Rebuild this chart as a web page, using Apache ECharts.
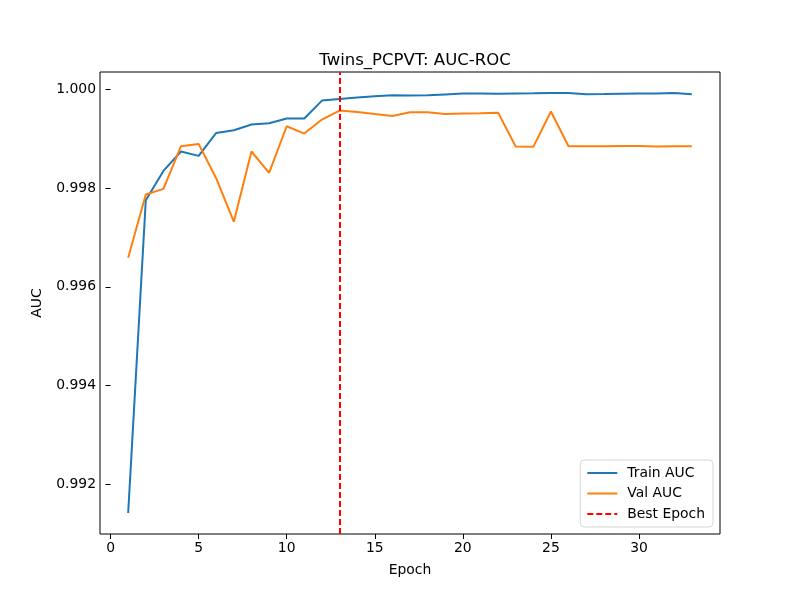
<!DOCTYPE html>
<html>
<head>
<meta charset="utf-8">
<script src="https://cdn.jsdelivr.net/npm/echarts@6/dist/echarts.min.js"></script>
<style>
  html, body { margin: 0; padding: 0; background: #fff; }
  #chart { width: 800px; height: 600px; }
</style>
</head>
<body>
<div id="chart"></div>
<script>
// 数据：从图上读出来的
const epochs = [1, 2, 3, 4, 5, 6, 7, 8, 9, 10, 11, 12, 13, 14, 15, 16, 17,
  18, 19, 20, 21, 22, 23, 24, 25, 26, 27, 28, 29, 30, 31, 32, 33]
const trainAuc = [0.991415, 0.997757, 0.998350, 0.998743, 0.998654, 0.999120,
  0.999174, 0.999290, 0.999316, 0.999411, 0.999411, 0.999775, 0.999808,
  0.999836, 0.999862, 0.999883, 0.999880, 0.999882, 0.999900, 0.999917,
  0.999917, 0.999912, 0.999920, 0.999923, 0.999929, 0.999929, 0.999905,
  0.999907, 0.999915, 0.999917, 0.999917, 0.999929, 0.999903]
const valAuc = [0.996589, 0.997872, 0.997986, 0.998850, 0.998897, 0.998196,
  0.997318, 0.998743, 0.998310, 0.999255, 0.999107, 0.999391, 0.999573,
  0.999545, 0.999504, 0.999464, 0.999538, 0.999538, 0.999504, 0.999511,
  0.999518, 0.999531, 0.998844, 0.998837, 0.999553, 0.998850, 0.998850,
  0.998850, 0.998853, 0.998853, 0.998847, 0.998850, 0.998850]
const bestEpoch = 13
const xTicks = [0, 5, 10, 15, 20, 25, 30]
const yTicks = [0.992, 0.994, 0.996, 0.998, 1.000]

// matplotlib 默认留 5% 边距
const pad = (lo, hi) => [lo - (hi - lo) * 0.05, hi + (hi - lo) * 0.05]
const allY = trainAuc.concat(valAuc)
const [yMin, yMax] = pad(Math.min(...allY), Math.max(...allY))
const [xMin, xMax] = pad(epochs[0], epochs[epochs.length - 1])

const font = 'DejaVu Sans'
const chart = echarts.init(document.getElementById('chart'))

const option = {
  animation: false,
  textStyle: { fontFamily: font, color: '#000' },
  title: {
    text: 'Twins_PCPVT: AUC-ROC',
    left: 410,
    textAlign: 'center',
    top: 47,
    textStyle: { fontFamily: font, fontSize: 16.5, fontWeight: 'normal', color: '#000' }
  },
  grid: {
    left: 100, right: 80, top: 72, bottom: 66,
    show: true, borderColor: '#000', borderWidth: 1, backgroundColor: '#fff'
  },
  legend: {
    orient: 'vertical',
    right: 87,
    bottom: 73,
    itemWidth: 30,
    itemHeight: 14,
    itemGap: 6.5,
    padding: [6, 8, 6, 6],
    borderColor: '#d6d6d6',
    borderWidth: 1,
    borderRadius: 4,
    backgroundColor: 'rgba(255,255,255,0.8)',
    itemStyle: { opacity: 0 },
    textStyle: { fontFamily: font, fontSize: 13.9, color: '#000', padding: [0, 0, 0, 5] },
    data: ['Train AUC', 'Val AUC', 'Best Epoch']
  },
  xAxis: {
    type: 'value',
    min: xMin,
    max: xMax,
    name: 'Epoch',
    nameLocation: 'middle',
    nameGap: 29,
    nameTextStyle: { fontFamily: font, fontSize: 13.9, color: '#000' },
    axisLine: { show: false },
    splitLine: { show: false },
    axisTick: { show: true, length: 5, lineStyle: { color: '#000' }, customValues: xTicks },
    axisLabel: {
      fontFamily: font, fontSize: 13.9, color: '#000', margin: 7,
      customValues: xTicks,
      formatter: v => String(v)
    }
  },
  yAxis: {
    type: 'value',
    min: yMin,
    max: yMax,
    name: 'AUC',
    nameLocation: 'middle',
    nameGap: 56,
    nameTextStyle: { fontFamily: font, fontSize: 13.9, color: '#000' },
    axisLine: { show: false },
    splitLine: { show: false },
    axisTick: { show: true, length: 5, lineStyle: { color: '#000' }, customValues: yTicks },
    axisLabel: {
      fontFamily: font, fontSize: 13.9, color: '#000', margin: 4,
      customValues: yTicks,
      formatter: v => v.toFixed(3)
    }
  },
  series: [
    {
      name: 'Train AUC',
      type: 'line',
      symbol: 'none',
      color: '#1f77b4',
      lineStyle: { width: 2, color: '#1f77b4' },
      data: epochs.map((e, i) => [e, trainAuc[i]]),
      z: 3
    },
    {
      name: 'Val AUC',
      type: 'line',
      symbol: 'none',
      color: '#ff7f0e',
      lineStyle: { width: 2, color: '#ff7f0e' },
      data: epochs.map((e, i) => [e, valAuc[i]]),
      z: 4
    },
    {
      name: 'Best Epoch',
      type: 'line',
      symbol: 'none',
      color: '#ff0000',
      lineStyle: { width: 2, color: '#ff0000', type: [6, 3] },
      data: [],
      markLine: {
        silent: true,
        symbol: 'none',
        label: { show: false },
        lineStyle: { width: 2, color: '#ff0000', type: [6, 3] },
        data: [{ xAxis: bestEpoch }]
      },
      z: 5
    }
  ]
}

chart.setOption(option)
</script>
</body>
</html>
